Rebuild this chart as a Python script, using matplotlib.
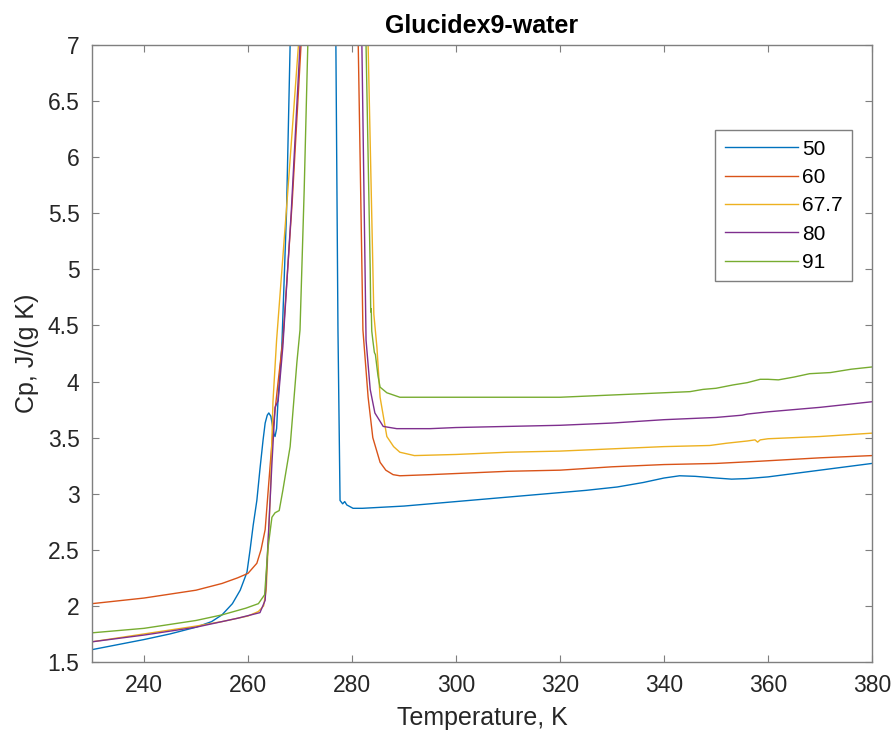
"""
Cp vs temperature for Glucidex9-water mixtures (DSC scans)
"""

import matplotlib
matplotlib.use('Agg')
import matplotlib.pyplot as plt

plt.rcParams['font.family'] = ['Liberation Sans', 'DejaVu Sans']

# concentration labels, wt%
labels = ['50', '60', '67.7', '80', '91']

# 50 wt%
t_50 = [230, 240, 245, 250, 253, 255, 257, 258.5, 259.8, 260.4, 261.0, 261.7,
        262.3, 262.9, 263.3, 263.7, 264.0, 264.4, 264.8, 265.0, 265.2, 265.5,
        265.8, 266.5, 267.4, 268.1, 270, 274,
        276.9, 277.3, 277.7, 278.2, 278.6, 279.0, 280.2, 282, 290, 300, 310,
        320, 325, 331, 336, 340, 343, 346, 350, 353, 356, 360, 365, 370, 375, 380]
cp_50 = [1.61, 1.70, 1.75, 1.81, 1.86, 1.92, 2.02, 2.14, 2.30, 2.50, 2.72, 2.94,
         3.22, 3.48, 3.63, 3.70, 3.72, 3.69, 3.58, 3.53, 3.51, 3.58,
         3.86, 4.31, 5.5, 7.0, 9.0, 9.0,
         7.0, 4.46, 2.94, 2.91, 2.93, 2.90, 2.87, 2.87, 2.89, 2.93, 2.97,
         3.01, 3.03, 3.06, 3.10, 3.14, 3.16, 3.155, 3.14, 3.13, 3.135, 3.15, 3.18, 3.21, 3.24, 3.27]

# 60 wt%
t_60 = [230, 240, 250, 255, 258, 260, 261.7, 262.5, 263.3, 264.0, 264.8, 265.8,
        266.7, 268.5, 270.2, 275, 281.2, 281.7, 282.1, 283.1, 284.0, 285.4,
        286.5, 287.9, 289.2, 295, 300, 310, 320, 330, 340, 350, 358.5, 370, 380]
cp_60 = [2.02, 2.07, 2.14, 2.20, 2.25, 2.29, 2.38, 2.50, 2.68, 3.10, 3.57, 4.00,
         4.37, 5.6, 7.0, 9.0, 7.0, 5.6, 4.46, 3.86, 3.50, 3.28,
         3.21, 3.17, 3.16, 3.17, 3.18, 3.20, 3.21, 3.24, 3.26, 3.27, 3.29, 3.32, 3.34]

# 67.7 wt%
t_677 = [230, 240, 250, 255, 258, 260, 262, 263.0, 263.5, 264.3, 264.8, 265.5,
         267.5, 269.7, 275, 283.1, 284.2, 284.8, 285.4, 286.7, 288, 289.2, 292,
         300, 310, 320, 330, 340, 348.8, 352, 356, 357.5, 358, 358.5, 360, 370, 380]
cp_677 = [1.68, 1.75, 1.82, 1.86, 1.89, 1.91, 1.95, 2.00, 2.14, 3.00, 3.82, 4.37,
          5.6, 7.0, 9.0, 7.0, 4.6, 4.3, 3.86, 3.51, 3.42, 3.37, 3.34,
          3.35, 3.37, 3.38, 3.40, 3.42, 3.43, 3.45, 3.47, 3.48, 3.46, 3.48, 3.49, 3.51, 3.54]

# 80 wt%
t_80 = [230, 240, 250, 255, 258, 262.3, 263.3, 263.65, 264.6, 265.2, 265.8,
        266.7, 268.3, 270, 275, 281.9, 282.7, 283.5, 284.4, 286.0, 288.6, 295,
        300, 310, 320, 330, 340, 350, 355, 356, 360, 370, 380]
cp_80 = [1.68, 1.74, 1.81, 1.86, 1.89, 1.94, 2.05, 2.38, 3.27, 3.77, 3.83,
         4.31, 5.5, 7.0, 9.0, 7.0, 4.37, 3.93, 3.72, 3.60, 3.58, 3.58,
         3.59, 3.60, 3.61, 3.63, 3.66, 3.68, 3.70, 3.71, 3.73, 3.77, 3.82]

# 91 wt%
t_91 = [230, 240, 250, 255, 259.6, 262, 263.2, 263.8, 264.6, 265.2, 266.0,
        266.7, 268.1, 269.4, 270.0, 270.8, 271.5, 276, 282.7, 283.5, 283.6,
        283.7, 283.8, 284.0, 284.3, 284.5, 285.0, 285.4, 286.7, 289.2, 300,
        310, 320, 330, 340, 345, 347.5, 350, 353.3, 356, 358.5, 360, 362, 365,
        368, 372, 376, 380]
cp_91 = [1.76, 1.80, 1.87, 1.92, 1.98, 2.02, 2.10, 2.50, 2.79, 2.83, 2.85,
         3.03, 3.42, 4.17, 4.46, 5.7, 7.0, 9.0, 7.0, 5.0, 4.62,
         4.65, 4.45, 4.37, 4.26, 4.24, 4.05, 3.95, 3.90, 3.86, 3.86,
         3.86, 3.86, 3.88, 3.90, 3.91, 3.93, 3.94, 3.97, 3.99, 4.02, 4.02, 4.015, 4.04,
         4.07, 4.08, 4.11, 4.13]

series = [(t_50, cp_50), (t_60, cp_60), (t_677, cp_677), (t_80, cp_80), (t_91, cp_91)]
colors = ['#0072BD', '#D95319', '#EDB120', '#7E2F8E', '#77AC30']

fig = plt.figure(figsize=(8.95, 7.38), dpi=100)
ax = fig.add_axes([0.1028, 0.1030, 0.8715, 0.836])

for (t, cp), lab, col in zip(series, labels, colors):
    ax.plot(t, cp, color=col, linewidth=1.0, label=lab)

ax.set_xlim(230, 380)
ax.set_ylim(1.5, 7)
ax.set_xticks(range(240, 381, 20))
ax.set_yticks([1.5, 2, 2.5, 3, 3.5, 4, 4.5, 5, 5.5, 6, 6.5, 7])
ax.set_yticklabels(['1.5', '2', '2.5', '3', '3.5', '4', '4.5', '5', '5.5', '6', '6.5', '7'])

ax.tick_params(direction='in', length=5, width=0.8, color='#7f7f7f',
               top=True, right=True, labelsize=16.5, labelcolor='#262626')
ax.tick_params(axis='x', pad=9)
ax.tick_params(axis='y', pad=9)
for sp in ax.spines.values():
    sp.set_color('#7f7f7f')
    sp.set_linewidth(1.0)

ax.set_xlabel('Temperature, K', fontsize=18, color='#262626', labelpad=6)
ax.set_ylabel('Cp, J/(g K)', fontsize=18, color='#262626', labelpad=6)
ax.set_title('Glucidex9-water', fontsize=18, fontweight='bold', pad=9)

leg = ax.legend(loc='upper right', bbox_to_anchor=(0.974, 0.862), fontsize=15,
                handlelength=3.5, handletextpad=0.2, labelspacing=0.45,
                fancybox=False, framealpha=1, borderpad=0.45, borderaxespad=0)
leg.get_frame().set_edgecolor('#7f7f7f')
leg.get_frame().set_linewidth(1.0)

fig.savefig('out.png', dpi=100)
